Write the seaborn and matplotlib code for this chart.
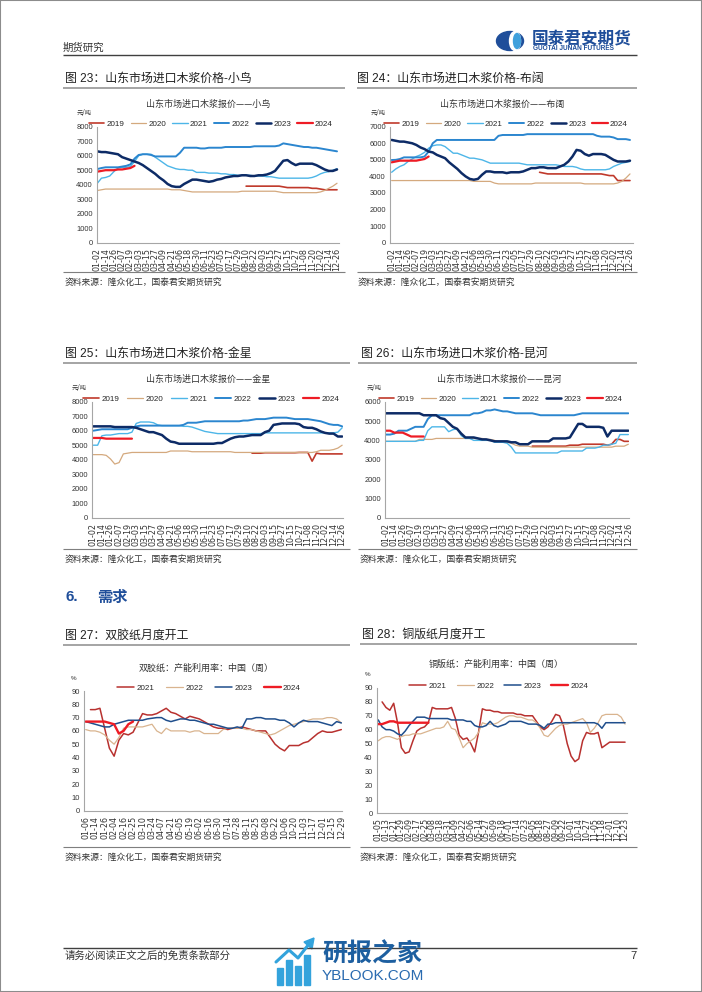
import numpy as np
import matplotlib
matplotlib.use("Agg")
import matplotlib.pyplot as plt
import seaborn as sns
from matplotlib.lines import Line2D
from matplotlib.patches import Ellipse, Rectangle, Polygon
from matplotlib.ticker import MultipleLocator

# ---------------- data ----------------
price_ticks = ['01-02', '01-14', '01-26', '02-07', '02-19', '03-03', '03-15', '03-27', '04-09', '04-21',
               '05-06', '05-18', '05-30', '06-11', '06-23', '07-05', '07-17', '07-29', '08-10', '08-22',
               '09-03', '09-15', '09-27', '10-15', '10-27', '11-08', '11-20', '12-02', '12-14', '12-26']
sj_ticks = ['01-06', '01-14', '01-26', '02-04', '02-16', '02-25', '03-10', '03-24', '04-07', '04-21',
            '05-05', '05-19', '06-02', '06-16', '06-30', '07-14', '07-28', '08-11', '08-25', '09-08',
            '09-22', '10-06', '10-20', '11-03', '11-17', '12-01', '12-15', '12-29']
tb_ticks = ['01-05', '01-13', '01-21', '01-29', '02-09', '02-17', '02-25', '03-08', '03-18', '03-31',
            '04-09', '04-22', '05-06', '05-14', '05-27', '06-09', '06-18', '07-01', '07-14', '07-23',
            '08-05', '08-18', '08-27', '09-09', '09-22', '10-01', '10-14', '10-27', '11-05', '11-18',
            '12-01', '12-10', '12-23']

price_years = ['2019', '2020', '2021', '2022', '2023', '2024']
demand_years = ['2021', '2022', '2023', '2024']

# 小鸟 (values every half tick step)
xiaoniao_2019_start = 18.0
xiaoniao_2019 = [3900, 3900, 3900, 3900, 3900, 3900, 3900, 3900, 3900, 3850, 3800, 3800,
                 3800, 3800, 3800, 3800, 3750, 3750, 3700, 3650, 3650, 3650, 3650]
xiaoniao_2020 = [3600, 3650, 3700, 3700, 3700, 3700, 3700, 3700, 3700, 3700,
                 3700, 3700, 3700, 3700, 3700, 3700, 3700, 3700, 3650, 3650,
                 3650, 3600, 3550, 3500, 3500, 3500, 3500, 3500, 3500, 3500,
                 3500, 3500, 3500, 3500, 3500, 3550, 3550, 3550, 3550, 3550,
                 3550, 3550, 3550, 3550, 3500, 3450, 3450, 3450, 3450, 3450,
                 3450, 3450, 3450, 3450, 3500, 3600, 3750, 3900, 4100]
xiaoniao_2021 = [4100, 4450, 4500, 4600, 4900, 5150, 5200, 5200, 5250, 5600,
                 6000, 6100, 6100, 6100, 5900, 5700, 5500, 5300, 5200, 5100,
                 5050, 5050, 5000, 5000, 4850, 4850, 4850, 4800, 4800, 4800,
                 4750, 4750, 4700, 4700, 4650, 4650, 4650, 4650, 4600, 4600,
                 4600, 4550, 4550, 4500, 4450, 4450, 4450, 4450, 4450, 4450,
                 4450, 4450, 4500, 4600, 4750, 4850, 4900, 5000, 5100]
xiaoniao_2022 = [5080, 5150, 5200, 5200, 5200, 5200, 5250, 5300, 5400, 5800,
                 6050, 6100, 6100, 6050, 5950, 5950, 5950, 5950, 5950, 5950,
                 6200, 6550, 6550, 6550, 6550, 6500, 6500, 6550, 6550, 6550,
                 6550, 6600, 6600, 6600, 6600, 6600, 6600, 6600, 6650, 6650,
                 6650, 6650, 6650, 6650, 6700, 6850, 6800, 6750, 6700, 6650,
                 6600, 6600, 6550, 6550, 6500, 6450, 6400, 6350, 6300]
xiaoniao_2023 = [6300, 6250, 6250, 6200, 6150, 6100, 5900, 5800, 5700, 5600,
                 5500, 5350, 5150, 4950, 4750, 4500, 4300, 4050, 3900, 3850,
                 3850, 4050, 4200, 4350, 4350, 4300, 4250, 4200, 4250, 4350,
                 4400, 4500, 4550, 4600, 4600, 4650, 4650, 4600, 4600, 4650,
                 4650, 4700, 4800, 4950, 5300, 5650, 5700, 5500, 5350, 5450,
                 5450, 5450, 5450, 5350, 5200, 5050, 4950, 4950, 5050]
xiaoniao_2024 = [4900, 4950, 5000, 5000, 5000, 5050, 5050, 5100, 5150, 5300]

# 布阔
bukuo_2019_start = 18.0
bukuo_2019 = [4250, 4200, 4150, 4150, 4150, 4150, 4150, 4150, 4150, 4150, 4150, 4150,
              4150, 4150, 4150, 4150, 4100, 4050, 4050, 3750, 3750, 3750, 3750]
bukuo_2020 = [3750, 3750, 3750, 3750, 3750, 3750, 3750, 3750, 3750, 3750,
              3750, 3750, 3750, 3750, 3750, 3750, 3750, 3750, 3750, 3750,
              3700, 3700, 3700, 3700, 3700, 3600, 3550, 3550, 3550, 3550,
              3550, 3550, 3550, 3550, 3550, 3600, 3600, 3600, 3600, 3600,
              3600, 3600, 3600, 3600, 3600, 3600, 3600, 3550, 3550, 3550,
              3550, 3550, 3550, 3550, 3550, 3600, 3700, 3900, 4150]
bukuo_2021 = [4250, 4450, 4600, 4700, 4900, 5050, 5200, 5300, 5450, 5700,
              5850, 5900, 5900, 5800, 5600, 5400, 5400, 5300, 5200, 5100,
              5100, 5050, 5000, 4900, 4800, 4800, 4800, 4800, 4800, 4800,
              4800, 4800, 4750, 4700, 4700, 4700, 4700, 4700, 4700, 4700,
              4700, 4650, 4600, 4600, 4600, 4550, 4450, 4400, 4400, 4400,
              4400, 4400, 4400, 4450, 4600, 4700, 4800, 4850, 4900]
bukuo_2022 = [4990, 5000, 5050, 5150, 5150, 5150, 5150, 5150, 5200, 5500,
              6000, 6200, 6200, 6200, 6200, 6200, 6200, 6200, 6200, 6200,
              6200, 6200, 6200, 6200, 6200, 6200, 6450, 6500, 6500, 6500,
              6500, 6500, 6500, 6550, 6550, 6550, 6550, 6550, 6550, 6550,
              6550, 6550, 6550, 6550, 6550, 6550, 6550, 6550, 6550, 6550,
              6450, 6400, 6400, 6400, 6350, 6250, 6250, 6250, 6200]
bukuo_2023 = [6200, 6150, 6100, 6100, 6050, 6000, 5900, 5750, 5650, 5500,
              5450, 5300, 5200, 5100, 4850, 4650, 4450, 4200, 4000, 3850,
              3800, 3850, 4100, 4300, 4300, 4250, 4250, 4250, 4200, 4250,
              4250, 4250, 4300, 4400, 4500, 4500, 4550, 4550, 4500, 4500,
              4500, 4600, 4700, 4900, 5200, 5600, 5550, 5350, 5250, 5350,
              5350, 5350, 5300, 5150, 5000, 4900, 4900, 4900, 4950]
bukuo_2024 = [4850, 4900, 4950, 4950, 4950, 4950, 4950, 5000, 5050, 5200]

# 金星
jinxing_2019_start = 18.5
jinxing_2019 = [4450, 4450, 4450, 4480, 4480, 4480, 4480, 4480, 4480, 4480, 4480,
                4500, 4500, 4500, 3900, 4450, 4400, 4400, 4400, 4400, 4400, 4400]
jinxing_2020 = [4350, 4350, 4350, 4300, 4050, 3700, 3800, 4400, 4450, 4500,
                4500, 4500, 4500, 4500, 4500, 4500, 4500, 4500, 4600, 4600,
                4600, 4600, 4600, 4550, 4550, 4550, 4550, 4550, 4550, 4550,
                4550, 4550, 4550, 4500, 4500, 4500, 4500, 4500, 4500, 4500,
                4500, 4500, 4500, 4500, 4500, 4500, 4500, 4500, 4500, 4500,
                4500, 4500, 4550, 4650, 4650, 4650, 4700, 4800, 5000]
jinxing_2021 = [5000, 5000, 5650, 5700, 5700, 5750, 5800, 5800, 5800, 5900,
                6500, 6600, 6600, 6600, 6550, 6400, 6350, 6350, 6350, 6350,
                6350, 6300, 6300, 6250, 6150, 6050, 5950, 5900, 5850, 5800,
                5800, 5800, 5800, 5800, 5800, 5800, 5800, 5800, 5800, 5800,
                5850, 5850, 5850, 5850, 5850, 5850, 5850, 5850, 5850, 5850,
                5850, 5850, 5850, 5850, 5850, 5850, 5850, 5900, 6200]
jinxing_2022 = [6000, 6050, 6100, 6100, 6100, 6100, 6100, 6100, 6100, 6200,
                6300, 6350, 6350, 6350, 6350, 6350, 6350, 6350, 6350, 6350,
                6350, 6400, 6550, 6550, 6550, 6600, 6650, 6650, 6650, 6650,
                6650, 6650, 6650, 6650, 6650, 6700, 6700, 6750, 6800, 6800,
                6800, 6850, 6900, 6900, 6900, 6900, 6850, 6800, 6800, 6800,
                6800, 6750, 6700, 6650, 6550, 6450, 6400, 6400, 6300]
jinxing_2023 = [6300, 6300, 6300, 6300, 6300, 6250, 6250, 6250, 6250, 6250,
                6200, 6100, 6000, 5900, 5900, 5800, 5700, 5450, 5250, 5200,
                5100, 5100, 5100, 5100, 5100, 5100, 5100, 5100, 5100, 5150,
                5150, 5300, 5450, 5550, 5600, 5600, 5650, 5700, 5700, 5700,
                5900, 6000, 6400, 6450, 6500, 6500, 6500, 6500, 6450, 6250,
                6200, 6200, 6100, 5950, 5850, 5800, 5800, 5600, 5600]
jinxing_2024 = [5500, 5500, 5500, 5450, 5450, 5450, 5450, 5450, 5450, 5450]

# 昆河
kunhe_2019_start = 17.5
kunhe_2019 = [3700, 3700, 3700, 3700, 3700, 3700, 3700, 3700, 3700, 3750, 3750, 3750,
              3800, 3800, 3800, 3800, 3800, 3800, 3750, 3800, 4050, 4050, 3950, 3950]
kunhe_2020 = [3950, 3950, 3950, 3950, 3950, 3950, 3950, 3950, 4050, 4050,
              4050, 4050, 4100, 4100, 4100, 4100, 4100, 4100, 4100, 4100,
              4100, 4100, 4100, 4100, 4050, 4050, 4000, 3900, 3900, 3900,
              3850, 3750, 3700, 3700, 3700, 3650, 3650, 3650, 3650, 3650,
              3650, 3650, 3650, 3650, 3650, 3650, 3650, 3650, 3650, 3650,
              3650, 3650, 3650, 3650, 3650, 3700, 3700, 3700, 3800]
kunhe_2021 = [3950, 3950, 3950, 3950, 3950, 3950, 3950, 3950, 4000, 4000,
              4500, 4700, 4700, 4700, 4700, 4450, 4550, 4600, 4250, 4100,
              4100, 4000, 4000, 4000, 4000, 4000, 3900, 3900, 3900, 3850,
              3650, 3350, 3350, 3350, 3350, 3350, 3350, 3350, 3350, 3350,
              3350, 3350, 3450, 3450, 3450, 3450, 3450, 3450, 3600, 3600,
              3600, 3650, 3750, 3750, 3800, 3850, 4300, 4300, 4300]
kunhe_2022 = [4300, 4300, 4350, 4500, 4500, 4500, 4600, 4700, 4700, 4700,
              5100, 5300, 5300, 5300, 5300, 5300, 5300, 5300, 5300, 5300,
              5300, 5400, 5400, 5450, 5550, 5550, 5600, 5550, 5500, 5500,
              5450, 5400, 5400, 5400, 5400, 5400, 5350, 5300, 5300, 5300,
              5300, 5300, 5300, 5300, 5300, 5300, 5350, 5400, 5400, 5400,
              5400, 5400, 5400, 5400, 5400, 5400, 5400, 5400, 5400]
kunhe_2023 = [5400, 5400, 5400, 5400, 5400, 5400, 5400, 5400, 5400, 5300,
              5300, 5300, 5300, 5150, 5100, 4900, 4700, 4600, 4350, 4150,
              4150, 4150, 4100, 4050, 4050, 4000, 3950, 3950, 3950, 3950,
              3900, 3900, 3800, 3800, 3800, 3950, 3950, 3950, 3950, 3950,
              4100, 4100, 4100, 4100, 4150, 4500, 4850, 4850, 4700, 4700,
              4700, 4700, 4650, 4200, 4500, 4500, 4500, 4500, 4500]
kunhe_2024 = [4500, 4500, 4400, 4400, 4400, 4300, 4200, 4200, 4200, 4200]

# 双胶纸 capacity utilisation (%)
sj_2021_start = 0.5
sj_2021 = [76, 76, 77, 62, 47, 41, 53, 58, 57, 59,
           66, 73, 72, 72, 73, 75, 77, 74, 73, 71,
           69, 71, 70, 69, 67, 65, 63, 62, 62, 61,
           62, 62, 63, 62, 61, 60, 60, 60, 55, 50,
           47, 45, 49, 49, 49, 51, 52, 55, 58, 60,
           59, 59, 60, 61]
sj_2022 = [61, 60, 60, 59, 57, 53, 50, 55, 62, 63,
           63, 63, 63, 64, 65, 60, 58, 62, 60, 60,
           60, 60, 59, 60, 60, 58, 58, 58, 58, 61,
           62, 62, 62, 62, 61, 61, 60, 59, 58, 57,
           58, 60, 62, 64, 65, 66, 67, 68, 69, 69,
           69, 70, 70, 69, 66]
sj_2023 = [67, 66, 65, 64, 63, 63, 65, 66, 67, 68,
           68, 68, 68, 69, 69.5, 70, 70, 68, 67, 68,
           69, 69, 68, 68, 67, 66, 65, 65, 64, 63,
           62, 62, 63, 62, 69, 69, 70, 70, 69, 69,
           69, 68, 68, 66, 63, 66, 68, 67, 67, 67,
           66, 65, 64, 67, 66]
sj_2024 = [67, 67, 67, 67, 67, 66, 65, 58, 60, 65, 67]

# 铜版纸 capacity utilisation (%)
tb_2021_start = 0.5
tb_2021 = [80, 76, 74, 79, 65, 47, 43, 44, 52, 59,
           61, 62, 65, 76, 75, 75, 75, 75, 76, 68,
           56, 53, 54, 50, 44, 58, 75, 74, 74, 73,
           73, 72, 72, 72, 72, 71, 71, 70, 70, 70,
           66, 62, 60, 62, 66, 71, 70, 63, 50, 41,
           37, 39, 52, 58, 57, 57, 58, 47, 49, 51,
           51, 51, 51, 51]
tb_2022 = [52, 54, 55, 55, 54, 53, 55, 56, 56, 57,
           57, 57, 58, 59, 60, 61, 61, 62, 66, 61,
           60, 54, 47, 50, 52, 54, 58, 65, 64, 64,
           64, 65, 67, 69, 70, 70, 69, 69, 68, 67,
           67, 65, 61, 56, 55, 58, 61, 63, 64, 64,
           65, 66, 67, 68, 65, 58, 61, 65, 70, 71,
           71, 71, 71, 69, 64]
tb_2023 = [67, 62, 60, 60, 59, 57, 56, 59, 63, 66,
           69, 69, 69, 68, 68, 68, 68, 68, 68, 67,
           67, 67, 67, 66, 66, 63, 62, 62, 63, 66,
           63, 62, 63, 64, 66, 66, 66, 66, 65, 64,
           64, 64, 63, 61, 64, 64, 65, 65, 65, 65,
           65, 65, 65, 65, 65, 65, 65, 64, 61, 65,
           65, 65, 65, 65, 65]
tb_2024 = [64, 64, 65, 66, 66, 65, 65, 65, 65, 65, 65, 65, 65, 65]

# ---------------- style ----------------
sns.set_style("white")
plt.rcParams["font.family"] = ["Liberation Sans", "Noto Sans CJK SC"]
plt.rcParams["axes.unicode_minus"] = False

PRICE_COL = {'2019': '#C0392B', '2020': '#D4A97E', '2021': '#4DB6E8',
             '2022': '#2B86CF', '2023': '#0D2B66', '2024': '#EE1C25'}
PRICE_LW = {'2019': 1.2, '2020': 0.9, '2021': 1.0, '2022': 1.4, '2023': 1.8, '2024': 1.6}
DEM_COL = {'2021': '#B8312F', '2022': '#D9B48F', '2023': '#1F4E8C', '2024': '#EE1C25'}
DEM_LW = {'2021': 1.1, '2022': 0.9, '2023': 1.1, '2024': 1.7}

MIX = ["Liberation Sans", "Noto Sans CJK SC"]
CJK = ["Noto Sans CJK SC", "DejaVu Sans"]

W, H = 702, 992
fig = plt.figure(figsize=(W / 100, H / 100), dpi=100)
fig.patch.set_facecolor("white")


def fx(x):
    return x / W


def fy(y):
    return 1 - y / H


def ftext(x, y, s, size, ha="left", va="center", color="#222222", weight="normal", family=MIX):
    fig.text(fx(x), fy(y), s, fontsize=size, ha=ha, va=va, color=color,
             fontweight=weight, family=family)


def fline(x0, x1, y, color="#808080", lw=1.0):
    fig.add_artist(Line2D([fx(x0), fx(x1)], [fy(y), fy(y)], transform=fig.transFigure,
                          color=color, lw=lw, solid_capstyle="butt"))


def make_chart(rect, xlim, ticks, ytop, ystep, series, colors, widths, leg_xy,
               colspace, handlelen, minor):
    l, t, r, b = rect
    ax = fig.add_axes([fx(l), fy(b), (r - l) / W, (b - t) / H])
    ax.patch.set_alpha(0)
    names = []
    for year, start, vals in series:
        v = np.asarray(vals, dtype=float)
        xs = start + 0.5 * np.arange(len(v))
        sns.lineplot(x=xs, y=v, ax=ax, color=colors[year], linewidth=widths[year],
                     legend=False, estimator=None, sort=False)
        names.append(year)
    ax.set_xlim(*xlim)
    ax.set_ylim(0, ytop)
    ax.set_yticks(np.arange(0, ytop + 1, ystep))
    ax.set_xticks(np.arange(len(ticks)))
    ax.set_xticklabels(ticks, rotation=90, fontsize=5.8, family="DejaVu Sans", color="#333333")
    ax.xaxis.set_minor_locator(MultipleLocator(minor))
    ax.tick_params(axis="x", which="both", length=2.2, width=0.6, color="#A6A6A6", pad=1.5)
    ax.tick_params(axis="y", length=0, pad=3, labelsize=5.4, labelcolor="#333333")
    ax.set_xlabel("")
    ax.set_ylabel("")
    for s in ["top", "right"]:
        ax.spines[s].set_visible(False)
    for s in ["left", "bottom"]:
        ax.spines[s].set_color("#A6A6A6")
        ax.spines[s].set_linewidth(0.8)
    handles = [Line2D([], [], color=colors[y], lw=widths[y]) for y in names]
    ax.legend(handles, names, loc="center", bbox_to_anchor=(fx(leg_xy[0]), fy(leg_xy[1])),
              bbox_transform=fig.transFigure, ncol=len(names), frameon=False, fontsize=5.8,
              handlelength=handlelen, handletextpad=0.3, columnspacing=colspace,
              borderpad=0, borderaxespad=0)
    return ax


# ---------------- page header ----------------
ftext(63, 48, "期货研究", 7.5, color="#333333", family=CJK)
fline(63, 637, 54.5, color="#404040", lw=1.0)
fig.add_artist(Ellipse((fx(510), fy(41)), 27 / W, 19 / H, transform=fig.transFigure,
                       color="#1F4E9A"))
fig.add_artist(Ellipse((fx(515), fy(41)), 11 / W, 19 / H, transform=fig.transFigure,
                       color="white"))
fig.add_artist(Ellipse((fx(517), fy(41)), 7 / W, 15 / H, transform=fig.transFigure,
                       color="#3FA0DC"))
ftext(532, 38, "国泰君安期货", 12, color="#1F4E9A", weight="bold", family=CJK)
ftext(533, 48.8, "GUOTAI JUNAN FUTURES", 4.7, color="#1F4E9A", weight="bold")

# ---------------- chart 23 ----------------
ftext(65, 79, "图 23：山东市场进口木浆价格-小鸟", 8.6)
fline(63, 345, 88, color="#8C8C8C", lw=1.1)
ftext(208, 104, "山东市场进口木浆报价——小鸟", 6.5, ha="center", color="#333333", family=CJK)
ftext(77, 113, "元/吨", 4.5, color="#333333", family=CJK)
make_chart((97, 126.7, 339, 242.7), (-0.04, 29.24), price_ticks, 8000, 1000,
           [('2019', xiaoniao_2019_start, xiaoniao_2019), ('2020', 0, xiaoniao_2020),
            ('2021', 0, xiaoniao_2021), ('2022', 0, xiaoniao_2022),
            ('2023', 0, xiaoniao_2023), ('2024', 0, xiaoniao_2024)],
           PRICE_COL, PRICE_LW, (211, 124), 0.75, 1.9, 0.25)
fline(63, 345, 272, color="#7F7F7F", lw=0.8)
ftext(65, 282, "资料来源：隆众化工，国泰君安期货研究", 6.3, color="#333333", family=CJK)

# ---------------- chart 24 ----------------
ftext(357, 79, "图 24：山东市场进口木浆价格-布阔", 8.6)
fline(357, 637, 88, color="#8C8C8C", lw=1.1)
ftext(502, 104, "山东市场进口木浆报价——布阔", 6.5, ha="center", color="#333333", family=CJK)
ftext(371, 113, "元/吨", 4.5, color="#333333", family=CJK)
make_chart((390, 126.7, 632.7, 242.7), (-0.2, 29.33), price_ticks, 7000, 1000,
           [('2019', bukuo_2019_start, bukuo_2019), ('2020', 0, bukuo_2020),
            ('2021', 0, bukuo_2021), ('2022', 0, bukuo_2022),
            ('2023', 0, bukuo_2023), ('2024', 0, bukuo_2024)],
           PRICE_COL, PRICE_LW, (506, 124), 0.75, 1.9, 0.25)
fline(357, 637, 272, color="#7F7F7F", lw=0.8)
ftext(358, 282, "资料来源：隆众化工，国泰君安期货研究", 6.3, color="#333333", family=CJK)

# ---------------- chart 25 ----------------
ftext(65, 354, "图 25：山东市场进口木浆价格-金星", 8.6)
fline(63, 350, 363, color="#8C8C8C", lw=1.1)
ftext(208, 379, "山东市场进口木浆报价——金星", 6.5, ha="center", color="#333333", family=CJK)
ftext(72, 388, "元/吨", 4.5, color="#333333", family=CJK)
make_chart((92.3, 401.7, 343, 517.7), (-0.12, 29.1), price_ticks, 8000, 1000,
           [('2019', jinxing_2019_start, jinxing_2019), ('2020', 0, jinxing_2020),
            ('2021', 0, jinxing_2021), ('2022', 0, jinxing_2022),
            ('2023', 0, jinxing_2023), ('2024', 0, jinxing_2024)],
           PRICE_COL, PRICE_LW, (211, 399), 0.95, 2.0, 0.25)
fline(63, 350, 549, color="#7F7F7F", lw=0.8)
ftext(65, 559, "资料来源：隆众化工，国泰君安期货研究", 6.3, color="#333333", family=CJK)

# ---------------- chart 26 ----------------
ftext(361, 354, "图 26：山东市场进口木浆价格-昆河", 8.6)
fline(358, 637, 363, color="#8C8C8C", lw=1.1)
ftext(499, 379, "山东市场进口木浆报价——昆河", 6.5, ha="center", color="#333333", family=CJK)
ftext(367, 388, "元/吨", 4.5, color="#333333", family=CJK)
make_chart((385, 401.7, 629, 517.7), (-0.12, 29.08), price_ticks, 6000, 1000,
           [('2019', kunhe_2019_start, kunhe_2019), ('2020', 0, kunhe_2020),
            ('2021', 0, kunhe_2021), ('2022', 0, kunhe_2022),
            ('2023', 0, kunhe_2023), ('2024', 0, kunhe_2024)],
           PRICE_COL, PRICE_LW, (501, 399), 0.75, 1.9, 0.25)
fline(358, 637, 549, color="#7F7F7F", lw=0.8)
ftext(360, 559, "资料来源：隆众化工，国泰君安期货研究", 6.3, color="#333333", family=CJK)

# ---------------- section 6 ----------------
ftext(65, 597, "6.", 11, color="#1F4E9A", weight="bold")
ftext(97, 597, "需求", 11, color="#1F4E9A", weight="bold", family=CJK)

# ---------------- chart 27 ----------------
ftext(65, 636, "图 27：双胶纸月度开工", 8.6)
fline(63, 350, 645, color="#8C8C8C", lw=1.1)
ftext(206, 668, "双胶纸：产能利用率：中国（周）", 6.5, ha="center", color="#333333", family=CJK)
ftext(71, 678, "%", 4.5, color="#333333")
make_chart((84.3, 691, 342, 810.7), (-0.15, 27.07), sj_ticks, 90, 10,
           [('2021', sj_2021_start, sj_2021), ('2022', 0, sj_2022),
            ('2023', 0, sj_2023), ('2024', 0, sj_2024)],
           DEM_COL, DEM_LW, (209, 688), 1.45, 2.1, 0.5)
fline(63, 350, 846.5, color="#7F7F7F", lw=0.8)
ftext(65, 857, "资料来源：隆众化工，国泰君安期货研究", 6.3, color="#333333", family=CJK)

# ---------------- chart 28 ----------------
ftext(362, 635, "图 28：铜版纸月度开工", 8.6)
fline(360, 637, 644, color="#8C8C8C", lw=1.1)
ftext(496, 664, "铜版纸：产能利用率：中国（周）", 6.5, ha="center", color="#333333", family=CJK)
ftext(365, 675, "%", 4.5, color="#333333")
make_chart((376.7, 688, 627, 813), (-0.2, 32.25), tb_ticks, 90, 10,
           [('2021', tb_2021_start, tb_2021), ('2022', 0, tb_2022),
            ('2023', 0, tb_2023), ('2024', 0, tb_2024)],
           DEM_COL, DEM_LW, (499, 686), 1.25, 2.1, 0.5)
fline(360, 637, 846.5, color="#7F7F7F", lw=0.8)
ftext(360, 857, "资料来源：隆众化工，国泰君安期货研究", 6.3, color="#333333", family=CJK)

# ---------------- footer ----------------
fline(63, 637, 947.5, color="#404040", lw=1.0)
ftext(65, 956, "请务必阅读正文之后的免责条款部分", 7.5, color="#333333", family=CJK)
ftext(637, 956, "7", 8, ha="right", color="#333333")

# watermark logo
for bx, btop in [(277, 968), (286, 960), (295, 966), (304, 955)]:
    fig.add_artist(Rectangle((fx(bx), fy(985)), 6 / W, (985 - btop) / H,
                             transform=fig.transFigure, color="#33A3DC"))
fig.add_artist(Line2D([fx(276), fx(289), fx(298), fx(309)], [fy(962), fy(950), fy(958), fy(944)],
                      transform=fig.transFigure, color="#33A3DC", lw=2.2))
fig.add_artist(Polygon([[fx(304), fy(942)], [fx(314), fy(938)], [fx(312), fy(949)]],
                       closed=True, transform=fig.transFigure, color="#33A3DC"))
ftext(372, 954, "研报之家", 18, ha="center", color="#1D5FA0", weight="bold", family=CJK)
ftext(373, 976, "YBLOOK.COM", 11, ha="center", color="#2A6BB0")

# page border
fig.add_artist(Rectangle((0, 0), 1, 1, transform=fig.transFigure, fill=False,
                         ec="#8C8C8C", lw=1.5))

fig.savefig("out.png", dpi=100, facecolor="white")
